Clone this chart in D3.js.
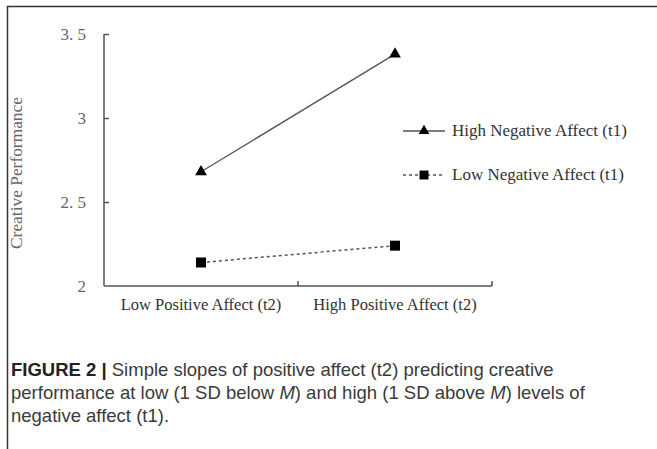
<!DOCTYPE html>
<html><head><meta charset="utf-8">
<script src="https://cdn.jsdelivr.net/npm/d3@7"></script>
<style>body{margin:0;background:#fff}svg{display:block}</style>
</head><body>
<svg id="c" width="657" height="449"></svg>
<script>
const categories = ["Low Positive Affect (t2)", "High Positive Affect (t2)"];
const seriesNames = ["High Negative Affect (t1)", "Low Negative Affect (t1)"];
const highNegative = [2.68, 3.38];
const lowNegative = [2.14, 2.24];
const yTicks = [2, 2.5, 3, 3.5];
const yLabel = "Creative Performance";

const svg = d3.select("#c");
// frame
svg.append("path").attr("d","M7.5,449 V6.5 H657").attr("fill","none").attr("stroke","#333").attr("stroke-width",1.5);

const x = d3.scaleBand().domain(categories).range([104,492]).padding(0);
const y = d3.scaleLinear().domain([2,3.5]).range([286,34]);
const serif = "'Liberation Serif','DejaVu Serif',serif";

// y axis
const ya = svg.append("g").attr("transform","translate(104,0)")
  .call(d3.axisLeft(y).tickValues(yTicks).tickSize(-5).tickPadding(18)
    .tickFormat(d => String(d).replace(".", ". ")));
ya.select(".domain").attr("stroke","#555").attr("stroke-width",1.5).attr("d","M0,"+y(3.5)+"V"+y(2));
ya.selectAll(".tick line").attr("stroke","#555").attr("stroke-width",1.5);
ya.selectAll(".tick text").attr("font-family",serif).attr("font-size",17).attr("fill","#666");
ya.selectAll(".tick").filter(d=>d===2).select("line").remove();

// x axis
const xa = svg.append("g").attr("transform","translate(0,"+y(2)+")")
  .call(d3.axisBottom(x).tickSize(0).tickPadding(12));
xa.select(".domain").attr("stroke","#555").attr("stroke-width",1.5).attr("d","M104,0H"+x.range()[1]);
xa.selectAll(".tick text").attr("font-family",serif).attr("font-size",16.5).attr("fill","#333");
const bounds = categories.map(c => x(c) + x.bandwidth());
xa.selectAll(".bt").data(bounds).join("line").attr("class","bt")
  .attr("x1",d=>d).attr("x2",d=>d).attr("y1",0).attr("y2",-5).attr("stroke","#555").attr("stroke-width",1.5);

// y label
svg.append("text").attr("transform","translate(22,173) rotate(-90)").attr("text-anchor","middle")
  .attr("font-family",serif).attr("font-size",16).attr("fill","#666")
  .attr("textLength",152).attr("lengthAdjust","spacingAndGlyphs").text(yLabel);

const cx = c => x(c) + x.bandwidth()/2;
const line = d3.line().x((d,i)=>cx(categories[i])).y(d=>y(d));
svg.append("path").attr("d",line(highNegative)).attr("fill","none").attr("stroke","#555").attr("stroke-width",1.3);
svg.append("path").attr("d",line(lowNegative)).attr("fill","none").attr("stroke","#555").attr("stroke-width",1.5).attr("stroke-dasharray","3,3");
const tri = d3.symbol().type(d3.symbolTriangle).size(60);
const sq = d3.symbol().type(d3.symbolSquare).size(100);
svg.selectAll(".tri").data(highNegative).join("path").attr("class","tri")
  .attr("transform",(d,i)=>"translate("+cx(categories[i])+","+y(d)+")").attr("d",tri).attr("fill","#000");
svg.selectAll(".sq").data(lowNegative).join("path").attr("class","sq")
  .attr("transform",(d,i)=>"translate("+cx(categories[i])+","+y(d)+")").attr("d",sq).attr("fill","#000");

// legend
const lg = svg.append("g");
[[131,false],[175,true]].forEach(([ly,dashed],i)=>{
  lg.append("line").attr("x1",403).attr("x2",445).attr("y1",ly).attr("y2",ly).attr("stroke","#555")
    .attr("stroke-width",dashed?1.5:1.3).attr("stroke-dasharray",dashed?"3,3":null);
  lg.append("path").attr("transform","translate(424,"+ly+")").attr("d",dashed?d3.symbol().type(d3.symbolSquare).size(80)():d3.symbol().type(d3.symbolTriangle).size(50)()).attr("fill","#000");
  lg.append("text").attr("x",452).attr("y",ly+5).attr("font-family",serif).attr("font-size",17).attr("fill","#333").text(seriesNames[i]);
});

// caption
const sans = "'Liberation Sans','Arial',sans-serif";
const cap = svg.append("g").attr("font-family",sans).attr("font-size",18.5).attr("fill","#3a3a3a");
const l1 = cap.append("text").attr("x",11).attr("y",376);
l1.append("tspan").attr("font-weight","bold").attr("fill","#222").text("FIGURE 2 | ");
l1.append("tspan").text("Simple slopes of positive affect (t2) predicting creative");
const l2 = cap.append("text").attr("x",11).attr("y",399);
l2.append("tspan").text("performance at low (1 SD below ");
l2.append("tspan").attr("font-style","italic").text("M");
l2.append("tspan").text(") and high (1 SD above ");
l2.append("tspan").attr("font-style","italic").text("M");
l2.append("tspan").text(") levels of");
cap.append("text").attr("x",11).attr("y",422).text("negative affect (t1).");
</script>
</body></html>
